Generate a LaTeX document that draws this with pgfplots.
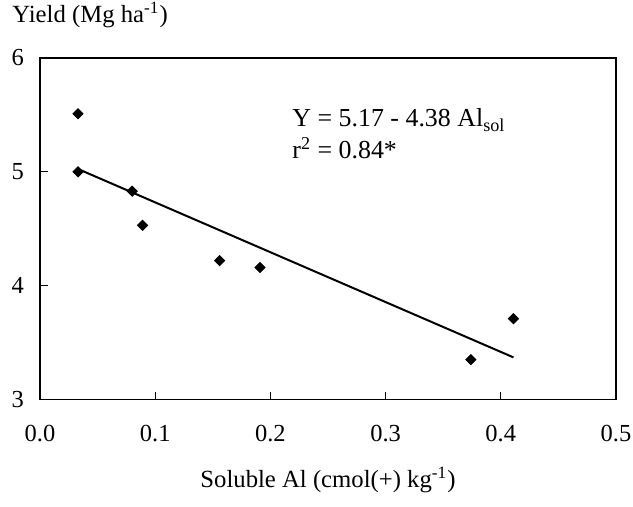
\documentclass[border=0pt]{standalone}
\usepackage{fontspec}
\setmainfont{Liberation Serif}
\usepackage{pgfplots}
\pgfplotsset{compat=1.18}

% yield vs. soluble aluminium
\pgfplotstableread{
x      y
0.033  5.51
0.033  5.00
0.080  4.83
0.089  4.53
0.156  4.22
0.191  4.16
0.374  3.35
0.411  3.71
}\obs

\begin{document}
\begin{tikzpicture}
\begin{axis}[
  name=ax,
  scale only axis,
  width=288bp, height=170.75bp,
  xmin=0, xmax=0.5, ymin=3, ymax=6,
  xtick={0,0.1,0.2,0.3,0.4,0.5},
  ytick={3,4,5,6},
  /pgf/number format/assume math mode=true,
  xticklabel style={/pgf/number format/fixed, /pgf/number format/fixed zerofill,
    /pgf/number format/precision=1, anchor=base, yshift=-21bp},
  yticklabel style={anchor=east, xshift=-4.5bp},
  ticklabel style={font=\fontsize{12.3}{14}\selectfont},
  font=\fontsize{12.4}{14}\selectfont,
  tick align=inside, tick pos=left,
  major tick length=4bp,
  axis line style={line width=0.9bp},
  tick style={line width=0.6bp, black},
  xlabel={Soluble Al (cmol(+) kg\textsuperscript{-1})},
  xlabel style={at={(axis description cs:0.5,0)}, anchor=base, yshift=-43.75bp},
  clip=false,
]
\addplot[black, line width=1bp] coordinates {(0.033,5.025) (0.411,3.370)};
\addplot[only marks, mark=square*, mark size=1.8bp, mark options={rotate=45, fill=black}, black]
  table[x=x, y=y] {\obs};
\node[anchor=base west, inner sep=0pt, font=\fontsize{13}{15}\selectfont]
  at (axis description cs:0.4375,0.798) {Y = 5.17 - 4.38 Al\textsubscript{sol}};
\node[anchor=base west, inner sep=0pt, font=\fontsize{13}{15}\selectfont]
  at (axis description cs:0.4375,0.707) {r\textsuperscript{2} = 0.84*};
\node[anchor=base west, inner sep=0pt, xshift=-14bp, yshift=18bp]
  at (axis description cs:0,1) {Yield (Mg ha\textsuperscript{-1})};
\end{axis}
\pgfresetboundingbox
\path ([xshift=-20bp, yshift=-53.75bp]ax.south west) rectangle ([xshift=8.5bp, yshift=29bp]ax.north east);
\end{tikzpicture}
\end{document}
